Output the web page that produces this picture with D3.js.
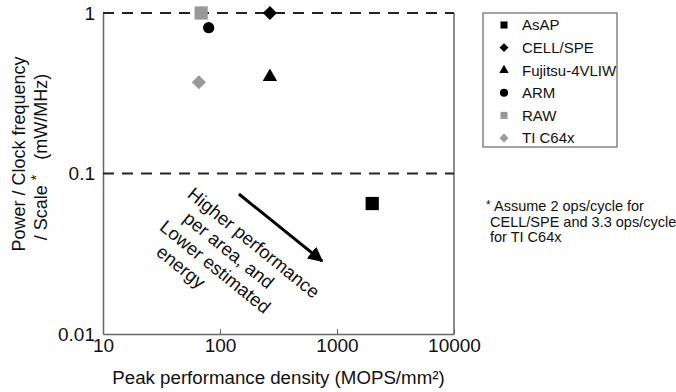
<!DOCTYPE html>
<html lang="en">
  <head>
    <meta charset="UTF-8" />
    <title>Power per clock vs peak performance density</title>
    <style>
      body {
        margin: 0;
        overflow: hidden;
        background: #fff;
      }
      text {
        font-family: "Liberation Sans", Arial, sans-serif;
        fill: #111;
      }
      .tick text {
        font-size: 19px;
      }
      .tick line {
        stroke: #666;
      }
      .domain {
        stroke: #666;
        stroke-width: 1.5px;
      }
    </style>
    <script src="https://unpkg.com/d3@7.8.1/dist/d3.min.js"></script>
  </head>
  <body>
    <script>
      const { select, scaleLog, axisLeft, axisBottom, symbol, symbolSquare, symbolTriangle, symbolCircle } = d3;

//Data
      const names = ["AsAP", "CELL/SPE", "Fujitsu-4VLIW", "ARM", "RAW", "TI C64x"];
      const density = [2000, 267, 267, 80, 69, 66];      // MOPS/mm²
      const powerPerClock = [0.065, 1, 0.4, 0.81, 1, 0.37]; // mW/MHz
      const shapes = ["square", "diamond", "triangle", "circle", "square", "diamond"];
      const colors = ["#000", "#000", "#000", "#000", "#999", "#999"];

      const xTicks = [10, 100, 1000, 10000];
      const xTickLabels = ["10", "100", "1000", "10000"];
      const yTicks = [1, 0.1, 0.01];
      const yTickLabels = ["1", "0.1", "0.01"];
      const dashedLevels = [1, 0.1];

      const annotationLines = ["Higher performance", "per area, and", "Lower estimated", "energy"];
      const noteLines = ["Assume 2 ops/cycle for", "CELL/SPE and 3.3 ops/cycle", "for TI C64x"];

//Layout
      const width = 676;
      const height = 392;
      const margin = { top: 13, right: 222, bottom: 58, left: 103 };

      const svg = select("body")
        .append("svg")
        .attr("width", width)
        .attr("height", height);

      const x = scaleLog()
        .domain([10, 10000])
        .range([margin.left, width - margin.right]);

      const y = scaleLog()
        .domain([0.01, 1])
        .range([height - margin.bottom, margin.top]);

      // marker shapes, sizes are areas
      const markerPath = (shape, big) => {
        if (shape === "square") return symbol(symbolSquare, big ? 175 : 50)();
        if (shape === "diamond") return symbol(symbolSquare, big ? 100 : 40)();
        if (shape === "triangle") return symbol(symbolTriangle, big ? 90 : 38)();
        return symbol(symbolCircle, big ? 100 : 52)();
      };
      const markerRot = (shape) => (shape === "diamond" ? 45 : 0);

//Axes
      svg.append("g")
        .attr("transform", `translate(0, ${height - margin.bottom})`)
        .call(axisBottom(x).tickValues(xTicks).tickFormat((d, i) => xTickLabels[i])
          .tickSizeInner(-5).tickSizeOuter(0).tickPadding(5));

      svg.append("g")
        .attr("transform", `translate(${margin.left}, 0)`)
        .call(axisLeft(y).tickValues(yTicks).tickFormat((d, i) => yTickLabels[i])
          .tickSize(0).tickPadding(8));

      // right frame
      svg.append("line")
        .attr("x1", x(10000)).attr("x2", x(10000))
        .attr("y1", y(1)).attr("y2", y(0.01))
        .attr("stroke", "#666").attr("stroke-width", 1.5);

      // dashed reference levels
      svg.selectAll(".level")
        .data(dashedLevels)
        .enter()
        .append("line")
        .attr("class", "level")
        .attr("x1", x(10)).attr("x2", x(10000))
        .attr("y1", d => y(d)).attr("y2", d => y(d))
        .attr("stroke", "#222")
        .attr("stroke-width", 2)
        .attr("stroke-dasharray", "11,8");

//Marks
      const marks = names.map((n, i) => ({
        name: n,
        x: x(density[i]),
        y: y(powerPerClock[i]),
        shape: shapes[i],
        color: colors[i],
      }));

      svg.selectAll(".mark")
        .data(marks)
        .enter()
        .append("path")
        .attr("class", "mark")
        .attr("d", d => markerPath(d.shape, true))
        .attr("transform", d => `translate(${d.x},${d.y}) rotate(${markerRot(d.shape)})`)
        .attr("fill", d => d.color);

//Annotation arrow
      svg.append("defs").append("marker")
        .attr("id", "head")
        .attr("viewBox", "0 0 10 10")
        .attr("refX", 9).attr("refY", 5)
        .attr("markerWidth", 5).attr("markerHeight", 5)
        .attr("markerUnits", "strokeWidth")
        .attr("orient", "auto")
        .append("path")
        .attr("d", "M0,0 L10,5 L0,10 Z")
        .attr("fill", "#000");

      svg.append("line")
        .attr("x1", x(145)).attr("y1", y(0.0745))
        .attr("x2", x(745)).attr("y2", y(0.0285))
        .attr("stroke", "#000")
        .attr("stroke-width", 3)
        .attr("marker-end", "url(#head)");

      const lineShift = [0, 12, -1, 12];
      const ann = svg.append("g")
        .attr("transform", `translate(${x(62)}, ${y(0.0824)}) rotate(39)`);
      ann.selectAll("text")
        .data(annotationLines)
        .enter()
        .append("text")
        .attr("x", (d, i) => lineShift[i] - 1.5)
        .attr("y", (d, i) => 13.2 + i * 21.5)
        .style("font-size", "18.5px")
        .text(d => d);

//Axis titles
      svg.append("text")
        .attr("x", (x(10) + x(10000)) / 2)
        .attr("y", 384)
        .attr("text-anchor", "middle")
        .style("font-size", "18.7px")
        .text("Peak performance density (MOPS/mm²)");

      svg.append("text")
        .attr("transform", "translate(25, 154) rotate(-90)")
        .attr("text-anchor", "middle")
        .style("font-size", "18px")
        .text("Power / Clock frequency");

      const yl2 = svg.append("text")
        .attr("transform", "translate(47, 157) rotate(-90)")
        .attr("text-anchor", "middle")
        .attr("xml:space", "preserve")
        .style("font-size", "18px")
        .style("white-space", "pre");
      yl2.append("tspan").text("/ Scale ");
      yl2.append("tspan").attr("dy", -6).style("font-size", "14px").text("*");
      yl2.append("tspan").attr("dy", 6).text("   (mW/MHz)");

//Legend
      const lg = { x: 483, y: 13, w: 134, h: 134, row: 22.6 };
      svg.append("rect")
        .attr("x", lg.x).attr("y", lg.y)
        .attr("width", lg.w).attr("height", lg.h)
        .attr("fill", "none")
        .attr("stroke", "#666")
        .attr("stroke-width", 1.2);

      const items = svg.selectAll(".item")
        .data(marks)
        .enter()
        .append("g")
        .attr("class", "item")
        .attr("transform", (d, i) => `translate(${lg.x + 21}, ${lg.y + 12 + i * lg.row})`);

      items.append("path")
        .attr("d", d => markerPath(d.shape, false))
        .attr("transform", d => `rotate(${markerRot(d.shape)})`)
        .attr("fill", d => d.color);

      items.append("text")
        .attr("x", 18)
        .attr("dy", "0.36em")
        .style("font-size", "15px")
        .text(d => d.name);

//Footnote
      svg.append("text")
        .attr("x", 486).attr("y", 209)
        .style("font-size", "12px")
        .text("*");
      svg.selectAll(".note")
        .data(noteLines)
        .enter()
        .append("text")
        .attr("class", "note")
        .attr("x", (d, i) => (i === 0 ? 494 : 490))
        .attr("y", (d, i) => 211 + i * 15.5)
        .style("font-size", "14.5px")
        .text(d => d);
    </script>
  </body>
</html>
